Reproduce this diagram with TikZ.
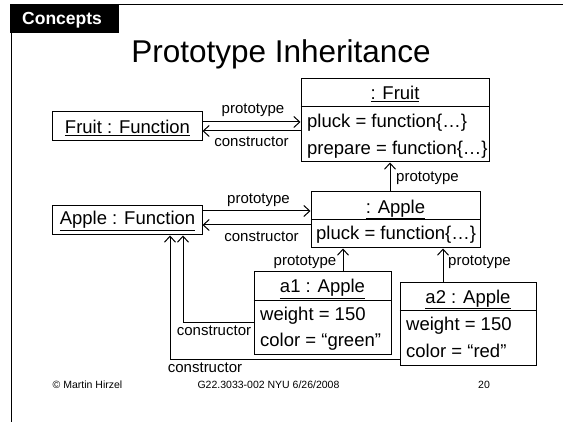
\documentclass[tikz,border=0pt]{standalone}
\usepackage{fontspec}
\setmainfont{Liberation Sans}
\usetikzlibrary{arrows.meta}
\begin{document}
\begin{tikzpicture}[x=1pt,y=-1pt,
  box/.style={draw, line width=1pt, inner sep=0, rectangle},
  txt/.style={inner sep=0, anchor=base west, font=\fontsize{18.5}{20}\selectfont},
  ttl/.style={inner sep=0, anchor=base, font=\fontsize{18.5}{20}\selectfont},
  lbl/.style={inner sep=0, font=\fontsize{15}{17}\selectfont},
  arr/.style={line width=1pt, -{Straight Barb[length=6pt,width=11pt,line width=1pt]}},
  ln/.style={line width=1pt},
]
\useasboundingbox (0,0) rectangle (563,422);
\fill[white] (0,0) rectangle (563,422);
\draw[ln] (11,5) -- (11,422);
\draw[ln] (119,5) -- (563,5);
\node[fill=black, minimum width=109pt, minimum height=29pt, inner sep=0] (tab) at (64.5,18.5) {};
\node[anchor=base west, inner sep=0, text=white, font=\bfseries\fontsize{17.5}{19}\selectfont] (tabtxt) at (22,25) {Concepts};
\node[anchor=base, inner sep=0, font=\fontsize{31.5}{34}\selectfont] (title) at (281,63) {Prototype Inheritance};

% boxes
\node[box, minimum width=150pt, minimum height=29pt] (fruitfn) at (127,126.5) {};
\node[box, minimum width=188pt, minimum height=83pt] (fruitobj) at (395,120.5) {};
\node[box, minimum width=150pt, minimum height=29pt] (applefn) at (127,220.5) {};
\node[box, minimum width=169pt, minimum height=56pt] (appleobj) at (395.5,220) {};
\node[box, minimum width=137pt, minimum height=83pt] (a1) at (322.5,313.5) {};
\node[box, minimum width=136pt, minimum height=83pt] (a2) at (468,324.5) {};

% dividers
\draw[ln] ([yshift=-28pt]fruitobj.north west) -- ([yshift=-28pt]fruitobj.north east);
\draw[ln] ([yshift=-28pt]appleobj.north west) -- ([yshift=-28pt]appleobj.north east);
\draw[ln] ([yshift=-29pt]a1.north west) -- ([yshift=-29pt]a1.north east);
\draw[ln] ([yshift=-28pt]a2.north west) -- ([yshift=-28pt]a2.north east);

% box texts
\node[ttl] (tfruitfn) at (127.5,133.3) {\underline{Fruit : Function}};
\node[ttl] (tfruitobj) at (395,100) {\underline{: Fruit}};
\node[txt] (tfpluck) at (307,127.7) {pluck = function\{…\}};
\node[txt] (tfprep) at (307,154.3) {prepare = function\{…\}};
\node[ttl] (tapplefn) at (127.5,225) {\underline{Apple : Function}};
\node[ttl] (tappleobj) at (395.5,213.3) {\underline{: Apple}};
\node[txt] (tapluck) at (316,240) {pluck = function\{…\}};
\node[ttl] (ta1) at (322.5,292.7) {\underline{a1 : Apple}};
\node[txt] (ta1w) at (260,320.7) {weight = 150};
\node[txt] (ta1c) at (260,346.7) {color = “green”};
\node[ttl] (ta2) at (468,303.3) {\underline{a2 : Apple}};
\node[txt] (ta2w) at (406,331) {weight = 150};
\node[txt] (ta2c) at (406,357.3) {color = “red”};

% connectors
\draw[arr] ([yshift=4.5pt]fruitfn.east) -- ([yshift=4.5pt]fruitfn.east -| fruitobj.west);
\draw[arr] ([yshift=-4.5pt]fruitfn.east -| fruitobj.west) -- ([yshift=-4.5pt]fruitfn.east);
\draw[arr] ([yshift=9.5pt]applefn.east) -- ([yshift=9.5pt]applefn.east -| appleobj.west);
\draw[arr] ([yshift=-4.5pt]applefn.east -| appleobj.west) -- ([yshift=-4.5pt]applefn.east);
\draw[arr] ([xshift=-5.5pt]appleobj.north) -- ([xshift=-5.5pt]appleobj.north |- fruitobj.south);
\draw[arr] ([xshift=20.5pt]a1.north) -- ([xshift=20.5pt]a1.north |- appleobj.south);
\draw[arr] ([xshift=-25pt]a2.north) -- ([xshift=-25pt]a2.north |- appleobj.south);
\draw[arr] ([yshift=-9.5pt]a1.west) -| ([xshift=56pt]applefn.south);
\draw[arr] ([yshift=-35.5pt]a2.west) -| ([xshift=43pt]applefn.south);

% labels
\node[lbl, anchor=base] (l1) at (253,114) {prototype};
\node[lbl, anchor=base] (l2) at (251.5,146.5) {constructor};
\node[lbl, anchor=base] (l3) at (258.5,204) {prototype};
\node[lbl, anchor=base] (l4) at (261.5,241.5) {constructor};
\node[lbl, anchor=base west] (l5) at (396,181.5) {prototype};
\node[lbl, anchor=base] (l6) at (305,266) {prototype};
\node[lbl, anchor=base west] (l7) at (448,266) {prototype};
\node[lbl, anchor=base] (l8) at (214,335.5) {constructor};
\node[lbl, anchor=base] (l9) at (205,372.5) {constructor};

% footer
\node[anchor=base, inner sep=0, font=\fontsize{10.5}{12}\selectfont] (f1) at (87.5,389) {© Martin Hirzel};
\node[anchor=base, inner sep=0, font=\fontsize{10.5}{12}\selectfont] (f2) at (268.5,389) {G22.3033-002 NYU 6/26/2008};
\node[anchor=base, inner sep=0, font=\fontsize{10.5}{12}\selectfont] (f3) at (484,389) {20};
\end{tikzpicture}
\end{document}
